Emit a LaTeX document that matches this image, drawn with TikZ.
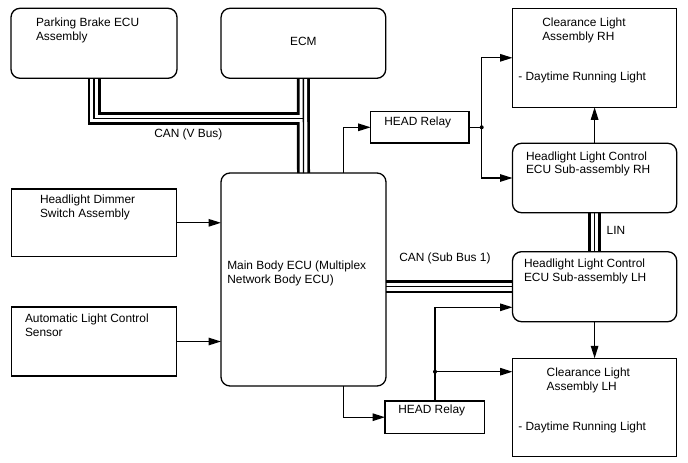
\documentclass[tikz,border=0pt]{standalone}
\usepackage{fontspec}
\setmainfont{Liberation Sans}
\usetikzlibrary{arrows.meta,backgrounds}
\begin{document}
\begin{tikzpicture}[x=1pt,y=-1pt,
  box/.style={draw,line width=1.3pt,rounded corners=9pt,inner sep=0pt,outer sep=0pt},
  sq/.style={draw,line width=1.3pt,inner sep=0pt,outer sep=0pt},
  txt/.style={inner sep=0pt,outer sep=0pt,anchor=north west,align=left,font=\fontsize{11.9}{13.6}\selectfont},
  arr/.style={line width=1.3pt,-{Triangle[length=12.5pt,width=7.5pt]}},
  conn/.style={line width=1.3pt},
  busA/.style={line width=13pt,black,line join=miter},
  busB/.style={line width=7.6pt,white,line join=miter},
  busC/.style={line width=1.4pt,black,line join=miter}]
\useasboundingbox (0,0) rectangle (688,463);
% boxes
\node[box,minimum width=166pt,minimum height=70pt] (pb) at (94,43.3) {};
\node[box,minimum width=164.7pt,minimum height=70pt] (ecm) at (303.4,43.3) {};
\node[sq,minimum width=165pt,minimum height=67.7pt] (dim) at (94.2,222.8) {};
\node[sq,minimum width=165pt,minimum height=69pt] (als) at (94.2,341.5) {};
\node[box,minimum width=165pt,minimum height=213pt] (main) at (303.5,279.5) {};
\node[sq,minimum width=98.3pt,minimum height=31.3pt] (relay1) at (419.8,127.3) {};
\node[sq,minimum width=99.3pt,minimum height=32.3pt] (relay2) at (434.7,417.2) {};
\node[sq,minimum width=164.2pt,minimum height=99pt] (clrh) at (594.6,57.8) {};
\node[box,minimum width=164.2pt,minimum height=69.4pt] (hrh) at (594.6,178) {};
\node[box,minimum width=164.2pt,minimum height=70pt] (hlh) at (594.6,286.7) {};
\node[sq,minimum width=164.2pt,minimum height=98.4pt] (cllh) at (594.6,407.5) {};
% texts
\node[txt] (tpb) at (36,18.3) {Parking Brake ECU\\Assembly};
\node[txt,anchor=center] (tecm) at (303.4,41.2) {ECM};
\node[txt] (tdim) at (40,195) {Headlight Dimmer\\Switch Assembly};
\node[txt] (tals) at (25,314) {Automatic Light Control\\Sensor};
\node[txt] (tmain) at (227.3,261) {Main Body ECU (Multiplex\\Network Body ECU)};
\node[txt] (tr1) at (384.3,116.7) {HEAD Relay};
\node[txt] (tr2) at (398.3,405) {HEAD Relay};
\node[txt] (tclrh) at (542.3,18.3) {Clearance Light\\Assembly RH};
\node[txt] (tclrhd) at (518.3,71.7) {- Daytime Running Light};
\node[txt] (thrh) at (526,151.7) {Headlight Light Control\\ECU Sub-assembly RH};
\node[txt] (thlh) at (524,259) {Headlight Light Control\\ECU Sub-assembly LH};
\node[txt] (tcllh) at (546.7,368.3) {Clearance Light\\Assembly LH};
\node[txt] (tcllhd) at (518.3,421.7) {- Daytime Running Light};
\node[txt] (tvbus) at (154.3,129) {CAN (V Bus)};
\node[txt] (tsbus) at (399.3,253.3) {CAN (Sub Bus 1)};
\node[txt] (tlin) at (606.7,226.7) {LIN};
% helper coordinates
\coordinate (vbj) at (303.4,118.5);
\coordinate (m1) at (343.8,0);
\coordinate (x1) at (481.7,0);
\coordinate (j1) at (relay1.east -| x1);
\coordinate (x2) at (435,0);
\coordinate (y2) at (0,307.3);
\coordinate (j2) at (435,371.7);
% buses
\begin{pgfonlayer}{background}
\foreach \s in {busA,busB,busC}{
  \draw[\s] (pb.south) |- (vbj);
  \draw[\s] (ecm.south) -- (main.north);
  \draw[\s] (main.east |- hlh.west) -- (hlh.west);
  \draw[\s] (hrh.south) -- (hlh.north);
}
\end{pgfonlayer}
% connectors
\draw[arr] (dim.east) -- (dim.east -| main.west);
\draw[arr] (als.east) -- (als.east -| main.west);
\draw[arr] (main.north -| m1) |- (relay1.west);
\draw[conn] (relay1.east) -- (j1);
\draw[arr] (j1) |- (clrh.west);
\draw[arr] (j1) |- (hrh.west);
\fill (j1) circle (2pt);
\draw[arr] (hrh.north) -- (clrh.south);
\draw[arr] (hlh.south) -- (cllh.north);
\draw[arr] (main.south -| m1) |- (relay2.west);
\draw[arr] (relay2.north -| x2) |- (y2 -| hlh.west);
\draw[arr] (j2) -- (j2 -| cllh.west);
\fill (j2) circle (2pt);
\end{tikzpicture}
\end{document}
